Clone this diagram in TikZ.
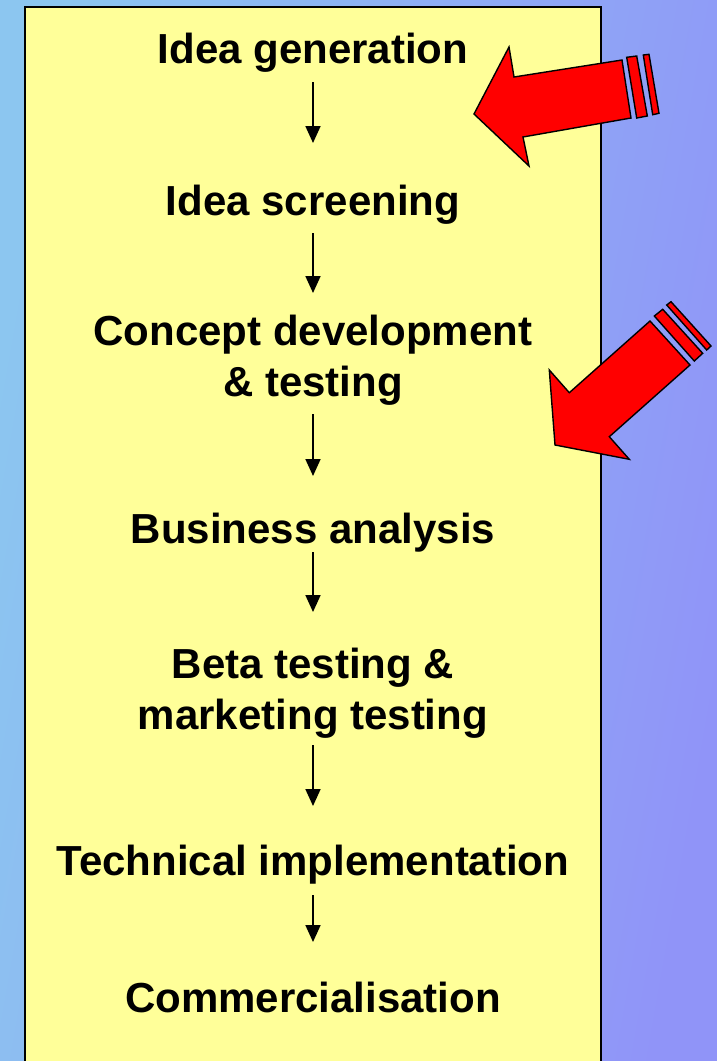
\documentclass[tikz,border=0pt]{standalone}
\usepackage{fontspec}
\setmainfont{Liberation Sans}
\usetikzlibrary{arrows.meta}
\definecolor{bgleft}{RGB}{140,198,240}
\definecolor{bgright}{RGB}{144,148,248}
\definecolor{paper}{RGB}{255,255,153}
\tikzset{
  stage/.style={font=\bfseries\fontsize{42}{51}\selectfont, align=center, inner sep=0pt, anchor=north},
  flow/.style={-{Triangle[width=15pt,length=17pt]}, line width=1.8pt},
  redarrow/.style={fill=red, draw=black, line width=1.4pt, line join=miter}
}
\begin{document}
\begin{tikzpicture}[x=1pt, y=-1pt]
\useasboundingbox (0,0) rectangle (717,1061);
\shade[left color=bgleft, right color=bgright, shading angle=80] (0,0) rectangle (717,1061);
\draw[fill=paper, line width=2.5pt] (25,7) rectangle (601,1075);
\node[stage] (gen) at (313,32.5) {Idea generation};
\node[stage] (scr) at (313,184.5) {Idea screening};
\node[stage] (con) at (313,314.5) {Concept development\\ \& testing};
\node[stage] (bus) at (313,512.5) {Business analysis};
\node[stage] (beta) at (313,647.5) {Beta testing \&\\ marketing testing};
\node[stage] (tech) at (313,844.5) {Technical implementation};
\node[stage] (com) at (313,981.5) {Commercialisation};
\draw[flow, shorten <=10pt, shorten >=41.5pt] (gen) -- (scr);
\draw[flow, shorten <=9pt, shorten >=21.5pt] (scr) -- (con);
\draw[flow, shorten <=9pt, shorten >=36.5pt] (con) -- (bus);
\draw[flow, shorten <=0pt, shorten >=35.5pt] (bus) -- (beta);
\draw[flow, shorten <=7pt, shorten >=38.5pt] (beta) -- (tech);
\draw[flow, shorten <=11pt, shorten >=39.5pt] (tech) -- (com);
\draw[redarrow] (474,114) -- (509,47) -- (514,77) -- (622,60) -- (631,118) -- (523,137) -- (529,166) -- cycle;
\draw[redarrow] (626.7,57.3) -- (636.7,56) -- (647.3,116) -- (636.7,118) -- cycle;
\draw[redarrow] (643.3,55) -- (649,54.3) -- (659,113.3) -- (652.7,114.7) -- cycle;
\draw[redarrow] (555,445) -- (549.3,370) -- (569.3,392.7) -- (650,321) -- (690,365) -- (609.3,436.7) -- (629.3,459.3) -- cycle;
\draw[redarrow] (654.3,316) -- (662.7,309.3) -- (702.7,353.3) -- (694.3,361) -- cycle;
\draw[redarrow] (666.7,305) -- (671,301.7) -- (711,346) -- (706.7,350) -- cycle;
\end{tikzpicture}
\end{document}
